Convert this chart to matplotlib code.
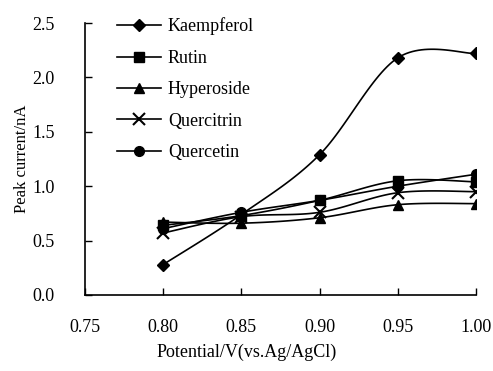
import numpy as np
import matplotlib
matplotlib.use("Agg")
import matplotlib.pyplot as plt

plt.rcParams["font.family"] = ["Liberation Serif", "DejaVu Serif"]

potential = [0.80, 0.85, 0.90, 0.95, 1.00]
kaempferol = [0.28, 0.74, 1.29, 2.18, 2.22]
rutin = [0.64, 0.73, 0.87, 1.05, 1.04]
hyperoside = [0.67, 0.66, 0.71, 0.83, 0.84]
quercitrin = [0.57, 0.72, 0.76, 0.94, 0.95]
quercetin = [0.61, 0.76, 0.87, 1.00, 1.11]

series = [
    ("Kaempferol", kaempferol, "D", 6),
    ("Rutin", rutin, "s", 7),
    ("Hyperoside", hyperoside, "^", 7),
    ("Quercitrin", quercitrin, "x", 8),
    ("Quercetin", quercetin, "o", 7),
]


def smooth(x, y, n=30):
    # Excel-style smoothed line: cubic Bezier segments, tension 1/6
    x = np.asarray(x, float)
    y = np.asarray(y, float)
    px = np.concatenate([[x[0]], x, [x[-1]]])
    py = np.concatenate([[y[0]], y, [y[-1]]])
    t = np.linspace(0, 1, n)[:, None]
    out = []
    for i in range(1, len(px) - 2):
        p0 = np.array([px[i], py[i]])
        p3 = np.array([px[i + 1], py[i + 1]])
        c1 = p0 + (np.array([px[i + 1], py[i + 1]]) - np.array([px[i - 1], py[i - 1]])) / 6
        c2 = p3 - (np.array([px[i + 2], py[i + 2]]) - np.array([px[i], py[i]])) / 6
        seg = ((1 - t) ** 3) * p0 + 3 * ((1 - t) ** 2) * t * c1 + 3 * (1 - t) * t ** 2 * c2 + t ** 3 * p3
        out.append(seg)
    pts = np.vstack(out)
    return pts[:, 0], pts[:, 1]


fig = plt.figure(figsize=(4.93, 3.71), dpi=100)
ax = fig.add_axes([0.1724, 0.2049, 0.7931, 0.733])

for name, vals, mk, ms in series:
    sx, sy = smooth(potential, vals)
    ax.plot(sx, sy, color="black", lw=1.2)
    ax.plot(potential, vals, linestyle="none", marker=mk, ms=ms, color="black",
            mew=1.5 if mk == "x" else 1)
    ax.plot([], [], color="black", lw=1.2, marker=mk, ms=ms,
            mew=1.5 if mk == "x" else 1, label=name)

ax.set_xlim(0.75, 1.00)
ax.set_ylim(0.0, 2.5)
ax.set_xticks([0.75, 0.80, 0.85, 0.90, 0.95, 1.00])
ax.set_yticks([0.0, 0.5, 1.0, 1.5, 2.0, 2.5])
ax.xaxis.set_major_formatter(matplotlib.ticker.FormatStrFormatter("%.2f"))
ax.yaxis.set_major_formatter(matplotlib.ticker.FormatStrFormatter("%.1f"))
ax.tick_params(direction="in", length=5, width=1, labelsize=13)
ax.tick_params(axis="x", pad=17)
ax.tick_params(axis="y", pad=22)
for s in ["top", "right"]:
    ax.spines[s].set_visible(False)
for s in ["left", "bottom"]:
    ax.spines[s].set_linewidth(1.2)

ax.set_xlabel("Potential/V(vs.Ag/AgCl)", fontsize=13)
ax.set_ylabel("Peak current/nA", fontsize=12)
# x label is centred on the figure, y label sits close to the tick labels
ax.xaxis.set_label_coords((247 - 85) / 391, -(352 - 295) / 272)
ax.yaxis.set_label_coords(-(85 - 22) / 391, 0.5)
ax.xaxis.label.set_va("center")
ax.yaxis.label.set_va("center")

ax.legend(loc="upper left", bbox_to_anchor=(0.041, 1.08), frameon=False,
          fontsize=13, handlelength=2.4, labelspacing=0.8, handletextpad=0.4)

fig.savefig("out.png", dpi=100)
